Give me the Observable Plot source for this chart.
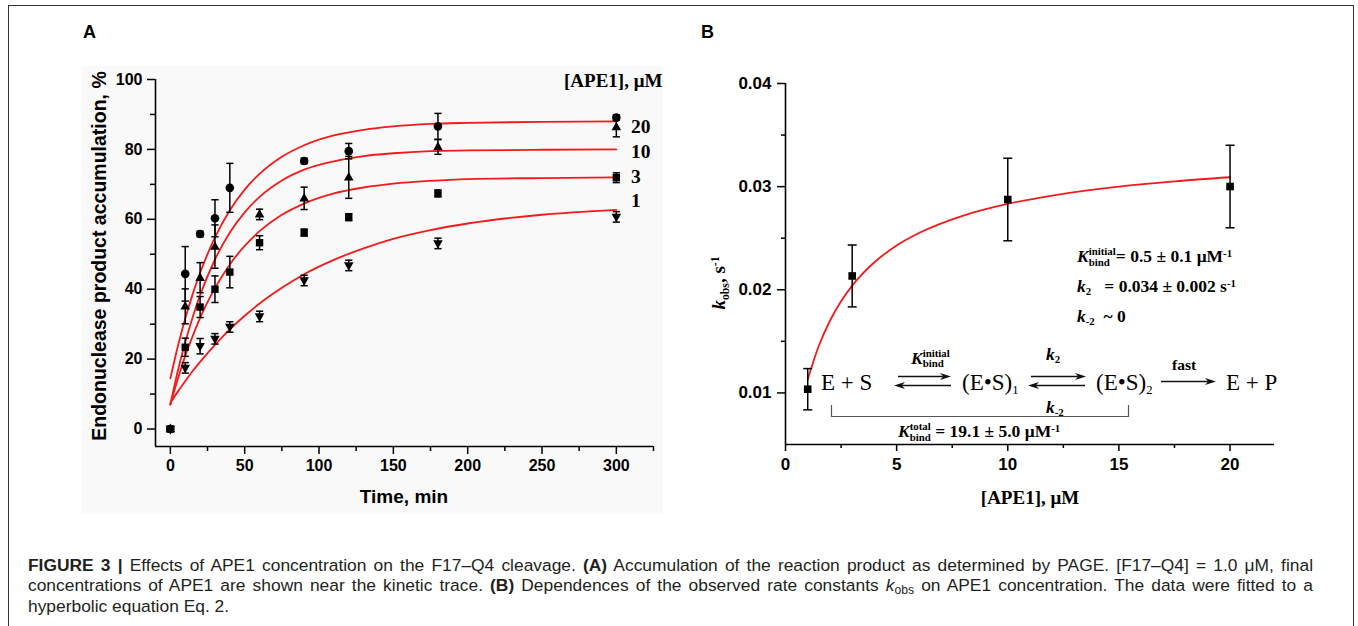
<!DOCTYPE html>
<html><head><meta charset="utf-8">
<script src="https://cdn.jsdelivr.net/npm/d3@7"></script>
<script src="https://cdn.jsdelivr.net/npm/@observablehq/plot@0.6"></script>
<style>
body{margin:0;background:#fff;}
#page{position:relative;width:1358px;height:626px;overflow:hidden;font-family:"Liberation Sans",Arial,sans-serif;color:#000;}
.frame{position:absolute;left:8px;top:5px;width:1344px;height:660px;border:1px solid #333;}
.bgA{position:absolute;left:82px;top:66px;width:581px;height:447px;background:#f9f9f9;}
.abs{position:absolute;white-space:nowrap;}
.letter{font-weight:bold;font-size:18px;line-height:18px;}
.ser{font-family:"Liberation Serif","Times New Roman",serif;font-weight:bold;}
.serR{font-family:"Liberation Serif","Times New Roman",serif;font-weight:normal;}
.it{font-style:italic;}
.sub{font-size:0.62em;position:relative;top:0.32em;}
.sup{font-size:0.62em;position:relative;top:-0.5em;}
.st{display:inline-block;font-size:0.62em;line-height:0.95em;vertical-align:-0.35em;text-align:left;}
.st span{display:block;}
#caption{position:absolute;left:28px;top:556px;width:1285px;font-size:17.4px;line-height:19.6px;color:#231f20;}
#caption div{white-space:nowrap;}
#caption .j{text-align:justify;text-align-last:justify;white-space:normal;}
#caption sub{font-size:0.7em;vertical-align:baseline;position:relative;top:0.3em;}
svg.ov{position:absolute;left:0;top:0;pointer-events:none;}
</style></head>
<body><div id="page">
<div class="frame"></div>
<div class="bgA"></div>
<div class="abs letter" style="left:83px;top:23px;">A</div>
<div class="abs letter" style="left:701px;top:23px;">B</div>
<div id="chartA" class="abs" style="left:60px;top:60px;"></div>
<div id="chartB" class="abs" style="left:690px;top:60px;"></div>
<svg class="ov" width="1358" height="626" id="ov"></svg>

<!-- panel A texts -->
<div class="abs" style="left:99px;top:256px;transform:translate(-50%,-50%) rotate(-90deg);font-weight:bold;font-size:19.5px;">Endonuclease product accumulation, %</div>
<div class="abs" style="left:404px;top:497px;transform:translate(-50%,-50%);font-weight:bold;font-size:19px;">Time, min</div>
<div class="abs ser" style="left:564px;top:71px;font-size:19px;line-height:20px;">[APE1], μM</div>
<div id="labelsA"></div>

<!-- panel B texts -->
<div class="abs ser" style="left:719px;top:283px;transform:translate(-50%,-50%) rotate(-90deg);font-size:19px;"><span class="it">k</span><span class="sub">obs</span>, s<span class="sup">-1</span></div>
<div class="abs ser" style="left:1030px;top:498px;transform:translate(-50%,-50%);font-size:19px;">[APE1], μM</div>

<div class="abs ser" style="left:1077px;top:246px;font-size:17.5px;line-height:20px;"><span class="it">K</span><span class="st"><span>initial</span><span>bind</span></span>= 0.5 ± 0.1 μM<span class="sup">-1</span></div>
<div class="abs ser" style="left:1077px;top:276px;font-size:17.5px;line-height:20px;"><span class="it">k</span><span class="sub">2</span>&nbsp;&nbsp; = 0.034 ± 0.002 s<span class="sup">-1</span></div>
<div class="abs ser" style="left:1077px;top:306px;font-size:17.5px;line-height:20px;"><span class="it">k</span><span class="sub">-2</span>&nbsp; ~ 0</div>

<div class="abs serR" style="left:821px;top:372px;font-size:23px;line-height:22px;">E + S</div>
<div class="abs serR" style="left:962px;top:372px;font-size:23px;line-height:22px;">(E•S)<span class="sub" style="font-size:0.55em">1</span></div>
<div class="abs serR" style="left:1096px;top:372px;font-size:23px;line-height:22px;">(E•S)<span class="sub" style="font-size:0.55em">2</span></div>
<div class="abs serR" style="left:1226px;top:372px;font-size:23px;line-height:22px;">E + P</div>
<div class="abs ser" style="left:911px;top:348px;font-size:17.5px;line-height:18px;"><span class="it">K</span><span class="st"><span>initial</span><span>bind</span></span></div>
<div class="abs ser" style="left:1046px;top:345px;font-size:17.5px;line-height:18px;"><span class="it">k</span><span class="sub">2</span></div>
<div class="abs ser" style="left:1046px;top:398px;font-size:17.5px;line-height:18px;"><span class="it">k</span><span class="sub">-2</span></div>
<div class="abs ser" style="left:1172px;top:357px;font-size:15.5px;line-height:16px;">fast</div>
<div class="abs ser" style="left:898px;top:421px;font-size:17.5px;line-height:20px;"><span class="it">K</span><span class="st"><span>total</span><span>bind</span></span> = 19.1 ± 5.0 μM<span class="sup">-1</span></div>

<div id="caption">
<div class="j"><b>FIGURE 3 |</b> Effects of APE1 concentration on the F17–Q4 cleavage. <b>(A)</b> Accumulation of the reaction product as determined by PAGE. [F17–Q4] = 1.0 μM, final</div>
<div class="j">concentrations of APE1 are shown near the kinetic trace. <b>(B)</b> Dependences of the observed rate constants <i>k</i><sub>obs</sub> on APE1 concentration. The data were fitted to a</div>
<div>hyperbolic equation Eq. 2.</div>
</div>
</div>
<script>
// ---------- Panel A data ----------
const timesA = [0, 10, 20, 30, 40, 60, 90, 120, 180, 300];
const seriesA = ["20", "10", "3", "1"];
const val20 = [0, 44.4, 55.8, 60.3, 69.0, null, 76.7, 79.5, 86.6, 89.1];
const err20 = [0, 7.8, 0.8, 5.3, 7.0, null, 0.8, 2.2, 3.7, 0.8];
const val10 = [0, 35.1, 43.3, 52.2, null, 61.4, 66.0, 72.0, 80.7, 86.4];
const err10 = [0, 5.0, 4.3, 6.2, null, 1.5, 3.2, 6.0, 2.1, 2.8];
const val3 = [0, 23.4, 34.9, 40.0, 44.9, 53.3, 56.2, 60.6, 67.4, 71.9];
const err3 = [0, 2.6, 3.0, 3.8, 4.5, 2.0, 1.0, 1.0, 1.0, 1.4];
const val1 = [0, 17.5, 23.7, 25.8, 29.2, 32.2, 42.5, 46.8, 53.1, 60.7];
const err1 = [0, 1.5, 2.2, 1.5, 1.5, 1.5, 1.5, 1.5, 1.5, 1.5];

// fitted curves
const fitTimes = [0, 5, 10, 15, 20, 30, 40, 50, 60, 75, 90, 110, 130, 150, 175, 200, 250, 300];
const fit20 = [14.5, 23.6, 31.6, 38.6, 44.7, 54.8, 62.6, 68.5, 73.0, 77.9, 81.2, 84.0, 85.6, 86.6, 87.3, 87.6, 87.9, 88.0];
const fit10 = [7.0, 16.6, 24.8, 32.0, 38.3, 48.5, 56.2, 62.0, 66.4, 71.1, 74.2, 76.6, 78.1, 78.9, 79.5, 79.7, 79.9, 80.0];
const fit3 = [7.0, 14.3, 20.9, 26.6, 31.8, 40.3, 47.1, 52.4, 56.6, 61.3, 64.5, 67.4, 69.1, 70.2, 71.0, 71.5, 71.8, 72.0];
const fit1 = [7.5, 10.7, 13.7, 16.6, 19.2, 24.1, 28.5, 32.4, 35.9, 40.4, 44.3, 48.4, 51.7, 54.4, 56.9, 58.8, 61.3, 62.7];

const xTicksA = [0, 50, 100, 150, 200, 250, 300];
const xMinorA = [25, 75, 125, 175, 225, 275, 325];
const yTicksA = [0, 20, 40, 60, 80, 100];
const yMinorA = [10, 30, 50, 70, 90];

// ---------- Panel B data ----------
const concB = [1, 3, 10, 20];
const kobsB = [0.01036, 0.02134, 0.02875, 0.03001];
const kobsErrB = [0.0020, 0.0030, 0.0040, 0.0040];
const fitConc = [1, 1.5, 2, 2.5, 3, 4, 5, 6, 8, 10, 12, 15, 17.5, 20];
const fitKobs = [0.0113, 0.01457, 0.0170, 0.01889, 0.0204, 0.02267, 0.02429, 0.0255, 0.0272, 0.02833, 0.02914, 0.0300, 0.03051, 0.03091];
const xTicksB = [0, 5, 10, 15, 20];
const xMinorB = [2.5, 7.5, 12.5, 17.5];
const yTicksB = [0.01, 0.02, 0.03, 0.04];
const yMinorB = [0.015, 0.025, 0.035];

// ---------- build tables ----------
const valsA = {"20": [val20, err20], "10": [val10, err10], "3": [val3, err3], "1": [val1, err1]};
const pointsA = [];
for (const s of seriesA) {
  const [v, e] = valsA[s];
  timesA.forEach((t, i) => { if (v[i] != null) pointsA.push({s, t, v: v[i], e: e[i]}); });
}
const fitsA = {"20": fit20, "10": fit10, "3": fit3, "1": fit1};
const curvesA = [];
for (const s of seriesA) fitTimes.forEach((t, i) => curvesA.push({s, t, v: fitsA[s][i]}));
const pointsB = concB.map((c, i) => ({c, k: kobsB[i], e: kobsErrB[i]}));
const curveB = fitConc.map((c, i) => ({c, k: fitKobs[i]}));

// ---------- symbols ----------
const symA = {
  "20": {draw(c) { c.moveTo(4.3, 0); c.arc(0, 0, 4.3, 0, 2 * Math.PI); }},
  "10": {draw(c) { c.moveTo(0, -5.4); c.lineTo(4.8, 3.2); c.lineTo(-4.8, 3.2); c.closePath(); }},
  "3": {draw(c) { c.rect(-3.7, -3.7, 7.4, 7.4); }},
  "1": {draw(c) { c.moveTo(0, 5.4); c.lineTo(4.8, -3.2); c.lineTo(-4.8, -3.2); c.closePath(); }}
};
const capSym = (w) => ({draw(c) { c.moveTo(-w, 0); c.lineTo(w, 0); }});
const squareB = {draw(c) { c.rect(-3.8, -3.8, 7.6, 7.6); }};

const axisStyle = {background: "transparent", color: "black", fontFamily: "'Liberation Sans', Arial, sans-serif", fontWeight: "bold", overflow: "visible"};

// ---------- Panel A ----------
const errA = pointsA.filter(d => d.e > 0);
const chartA = Plot.plot({
  width: 620, height: 460,
  marginLeft: 95, marginRight: 27, marginTop: 19, marginBottom: 74,
  x: {domain: [-10, 325], label: null},
  y: {domain: [-5, 100], label: null},
  style: {...axisStyle, fontSize: "16px"},
  marks: [
    Plot.axisX({ticks: xTicksA, tickSize: 8, tickPadding: 5, strokeWidth: 1.5, label: null, tickFormat: d => String(d)}),
    Plot.axisX({ticks: xMinorA, tickSize: 5, strokeWidth: 1.5, label: null, tickFormat: () => ""}),
    Plot.axisY({ticks: yTicksA, tickSize: 8, tickPadding: 5, strokeWidth: 1.5, label: null, tickFormat: d => String(d)}),
    Plot.axisY({ticks: yMinorA, tickSize: 5, strokeWidth: 1.5, label: null, tickFormat: () => ""}),
    Plot.ruleY([-5], {stroke: "black", strokeWidth: 1.6}),
    Plot.ruleX([-10], {stroke: "black", strokeWidth: 1.6}),
    Plot.line(curvesA, {x: "t", y: "v", z: "s", stroke: "#f21a1a", strokeWidth: 1.8, curve: "monotone-x"}),
    Plot.ruleX(errA, {x: "t", y1: d => d.v - d.e, y2: d => d.v + d.e, stroke: "black", strokeWidth: 1.5}),
    Plot.dot(errA, {x: "t", y: d => d.v + d.e, symbol: capSym(3.6), fill: "none", stroke: "black", strokeWidth: 1.5}),
    Plot.dot(errA, {x: "t", y: d => d.v - d.e, symbol: capSym(3.6), fill: "none", stroke: "black", strokeWidth: 1.5}),
    ...seriesA.map(s => Plot.dot(pointsA.filter(d => d.s === s), {x: "t", y: "v", symbol: symA[s], fill: "black", stroke: "none"}))
  ]
});
document.getElementById("chartA").append(chartA);

// curve labels placed at the right end of each fitted curve
const labelPos = {"20": 127.3, "10": 152, "3": 176.7, "1": 201.3};
const labelsA = document.getElementById("labelsA");
for (const s of seriesA) {
  const d = document.createElement("div");
  d.className = "abs ser";
  d.style.cssText = `left:631px;top:${labelPos[s] - 11}px;font-size:19.5px;line-height:22px;`;
  d.textContent = s;
  labelsA.append(d);
}

// ---------- Panel B ----------
const chartB = Plot.plot({
  width: 600, height: 460,
  marginLeft: 95, marginRight: 16, marginTop: 23, marginBottom: 76,
  x: {domain: [0, 22], label: null},
  y: {domain: [0.005, 0.04], label: null},
  style: {...axisStyle, fontSize: "17px"},
  marks: [
    Plot.axisX({ticks: xTicksB, tickSize: 7, tickPadding: 6, strokeWidth: 1.5, label: null, tickFormat: d => String(d)}),
    Plot.axisX({ticks: xMinorB, tickSize: 4, strokeWidth: 1.5, label: null, tickFormat: () => ""}),
    Plot.axisY({ticks: yTicksB, tickSize: 8, tickPadding: 6, strokeWidth: 1.5, label: null, tickFormat: d3.format(".2f")}),
    Plot.axisY({ticks: yMinorB, tickSize: 4, strokeWidth: 1.5, label: null, tickFormat: () => ""}),
    Plot.ruleY([0.005], {stroke: "black", strokeWidth: 1.6}),
    Plot.ruleX([0], {stroke: "black", strokeWidth: 1.6}),
    Plot.line(curveB, {x: "c", y: "k", stroke: "#f21a1a", strokeWidth: 1.8, curve: "monotone-x"}),
    Plot.ruleX(pointsB, {x: "c", y1: d => d.k - d.e, y2: d => d.k + d.e, stroke: "black", strokeWidth: 1.5}),
    Plot.dot(pointsB, {x: "c", y: d => d.k + d.e, symbol: capSym(4.5), fill: "none", stroke: "black", strokeWidth: 1.5}),
    Plot.dot(pointsB, {x: "c", y: d => d.k - d.e, symbol: capSym(4.5), fill: "none", stroke: "black", strokeWidth: 1.5}),
    Plot.dot(pointsB, {x: "c", y: "k", symbol: squareB, fill: "black", stroke: "none"})
  ]
});
document.getElementById("chartB").append(chartB);

// ---------- reaction scheme arrows and bracket (overlay) ----------
const ov = d3.select("#ov");
function arrow(x1, x2, y) {
  const dir = Math.sign(x2 - x1), hl = 11, hw = 3.6;
  ov.append("line").attr("x1", x1).attr("x2", x2 - dir * hl * 0.7).attr("y1", y).attr("y2", y)
    .attr("stroke", "#111").attr("stroke-width", 1.5);
  ov.append("path").attr("d", `M${x2},${y}L${x2 - dir * hl},${y - hw}L${x2 - dir * hl * 0.7},${y}L${x2 - dir * hl},${y + hw}Z`).attr("fill", "#111");
}
arrow(898, 951, 376.5);
arrow(951, 894, 385.5);
arrow(1031, 1086, 376.5);
arrow(1085, 1028, 385.5);
arrow(1161, 1216, 381.5);
ov.append("path").attr("d", "M831.5,405V416.5H1128.5V405").attr("fill", "none").attr("stroke", "#555").attr("stroke-width", 1.2);
</script>
</body></html>
